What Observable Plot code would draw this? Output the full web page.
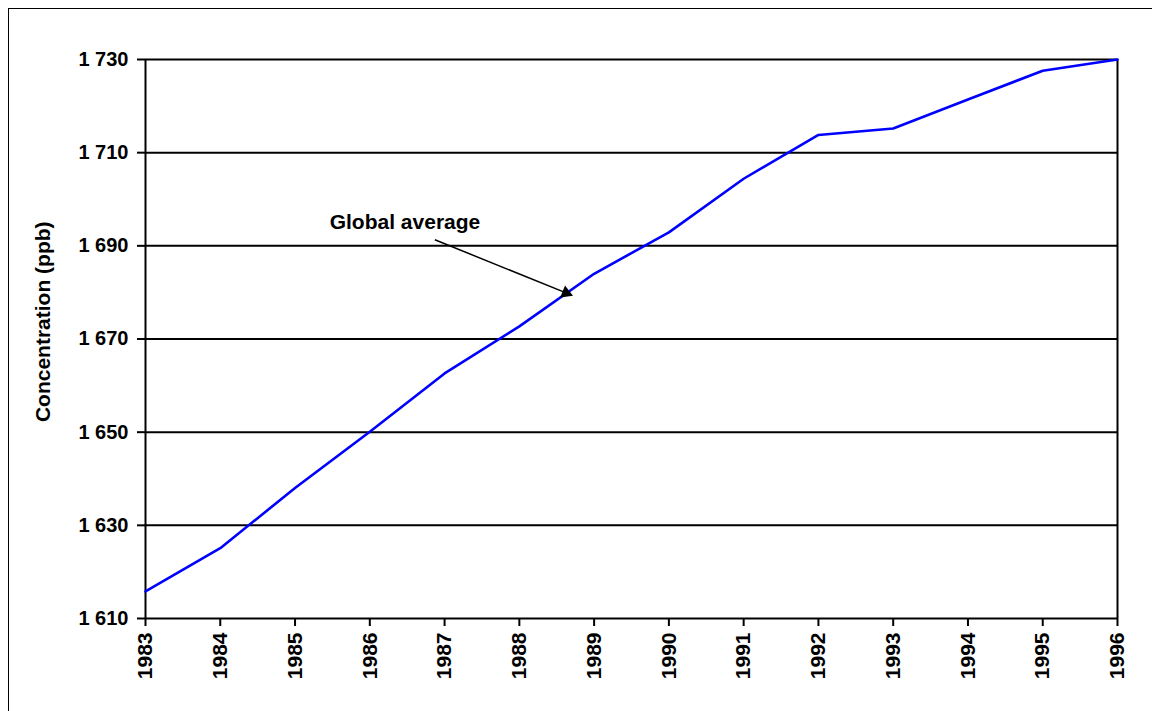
<!DOCTYPE html>
<html>
<head>
<meta charset="utf-8">
<script src="https://cdn.jsdelivr.net/npm/d3@7"></script>
<script src="https://cdn.jsdelivr.net/npm/@observablehq/plot@0.6"></script>
<style>
  html, body { margin: 0; padding: 0; background: #fff; }
  #chart { position: relative; width: 1152px; height: 711px; overflow: hidden; }
</style>
</head>
<body>
<div id="chart"></div>
<script>
const years = [1983, 1984, 1985, 1986, 1987, 1988, 1989, 1990, 1991, 1992, 1993, 1994, 1995, 1996];
const concentration = [1615.8, 1625.1, 1638.0, 1650.1, 1662.6, 1672.7, 1684.0, 1692.9, 1704.4, 1713.8, 1715.2, 1721.4, 1727.6, 1730.0];
const yTicks = [1610, 1630, 1650, 1670, 1690, 1710, 1730];
const yLabel = "Concentration (ppb)";
const yLabelPos = {x: 1981.636, y: 1673.7};
const annotationText = "Global average";
const annotationTextPos = {x: 1986.47, y: 1695.0};
const arrowStart = {x: 1986.87, y: 1691.3};
const arrowHead = {x: 1988.625, y: 1679.9};

const data = years.map((y, i) => ({year: y, value: concentration[i]}));
const fmt = d3.formatLocale({thousands: " ", grouping: [3], decimal: "."}).format(",");

const plot = Plot.plot({
  width: 1152,
  height: 711,
  marginLeft: 145,
  marginRight: 35,
  marginTop: 59,
  marginBottom: 93,
  style: {fontFamily: "'Liberation Sans', Arial, sans-serif", fontSize: "20px", fontWeight: "bold", color: "#000", background: "transparent"},
  x: {domain: [1983, 1996]},
  y: {domain: [1610, 1730]},
  marks: [
    Plot.ruleY(yTicks, {stroke: "#000", strokeWidth: 2}),
    Plot.ruleX([years[0], years[years.length - 1]], {stroke: "#000", strokeWidth: 2}),
    Plot.axisY({ticks: yTicks, tickFormat: fmt, tickSize: 8, tickPadding: 9, strokeWidth: 2, fontSize: 20, fontWeight: "bold", label: null}),
    Plot.axisX({ticks: years, tickFormat: d => String(d), tickSize: 8, tickPadding: 6, tickRotate: -90, strokeWidth: 2, fontSize: 21, fontWeight: "bold", label: null}),
    Plot.text([yLabel], {x: yLabelPos.x, y: yLabelPos.y, text: d => d, rotate: -90, textAnchor: "middle", lineAnchor: "middle", fontSize: 21, fontWeight: "bold", fill: "#000"}),
    Plot.line(data, {x: "year", y: "value", stroke: "#0000ff", strokeWidth: 2.6}),
    Plot.link([0], {x1: arrowStart.x, y1: arrowStart.y, x2: arrowHead.x, y2: arrowHead.y, stroke: "#000", strokeWidth: 1.5}),
    Plot.dot([0], {x: arrowHead.x, y: arrowHead.y, symbol: "triangle", r: 4.8, fill: "#000", stroke: "none", rotate: 111.9}),
    Plot.text([annotationText], {x: annotationTextPos.x, y: annotationTextPos.y, text: d => d, fontSize: 21, fontWeight: "bold", fill: "#000"})
  ]
});

const container = document.getElementById("chart");
container.appendChild(plot);
d3.select(plot).append("rect")
  .attr("x", 8.5).attr("y", 8.5).attr("width", 1160).attr("height", 720)
  .attr("fill", "none").attr("stroke", "#000").attr("stroke-width", 1);
</script>
</body>
</html>
